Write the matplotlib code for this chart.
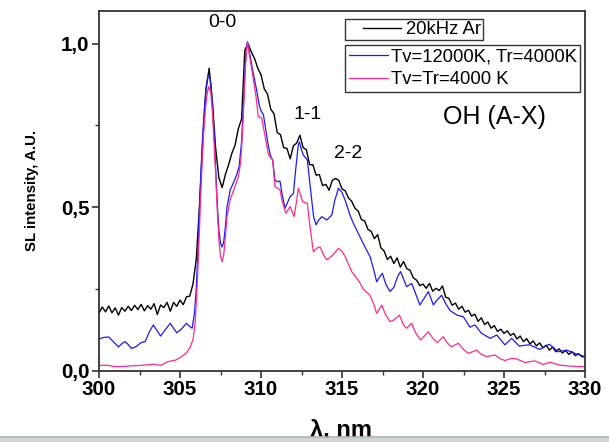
import numpy as np
import matplotlib
matplotlib.use("Agg")
import matplotlib.pyplot as plt
from matplotlib.patches import Rectangle
from matplotlib.lines import Line2D
from matplotlib.legend_handler import HandlerLine2D

plt.rcParams['font.family'] = ['Liberation Sans', 'DejaVu Sans']

# ---- data ----
black_x = np.round(np.arange(300.0, 330.001, 0.2), 1)
black_y = [
    0.176, 0.195, 0.180, 0.198, 0.177, 0.192, 0.170, 0.193, 0.182, 0.197,
    0.184, 0.200, 0.187, 0.203, 0.183, 0.199, 0.188, 0.205, 0.172, 0.201,
    0.193, 0.209, 0.182, 0.209, 0.197, 0.216, 0.202, 0.226, 0.228, 0.265,
    0.34, 0.50, 0.70, 0.86, 0.925, 0.82, 0.68, 0.59, 0.56, 0.60,
    0.63, 0.665, 0.69, 0.74, 0.77, 0.98, 1.00, 0.975, 0.955, 0.925,
    0.905, 0.862, 0.846, 0.800, 0.786, 0.728, 0.722, 0.682, 0.680, 0.648,
    0.688, 0.696, 0.720, 0.682, 0.676, 0.630, 0.630, 0.598, 0.600, 0.566,
    0.570, 0.552, 0.582, 0.588, 0.582, 0.556, 0.550, 0.528, 0.518, 0.497,
    0.488, 0.462, 0.458, 0.432, 0.426, 0.404, 0.416, 0.376, 0.366, 0.340,
    0.350, 0.328, 0.345, 0.317, 0.334, 0.312, 0.307, 0.284, 0.277, 0.260,
    0.265, 0.252, 0.267, 0.243, 0.252, 0.245, 0.259, 0.225, 0.221, 0.200,
    0.207, 0.188, 0.197, 0.179, 0.185, 0.167, 0.173, 0.151, 0.162, 0.141,
    0.149, 0.130, 0.138, 0.120, 0.127, 0.114, 0.122, 0.108, 0.114, 0.097,
    0.106, 0.089, 0.098, 0.082, 0.091, 0.076, 0.085, 0.070, 0.078, 0.063,
    0.072, 0.058, 0.067, 0.054, 0.062, 0.050, 0.058, 0.046, 0.052, 0.043,
    0.042,
]

blue_x = [300.0, 300.3, 300.6, 300.9, 301.2, 301.4, 301.6, 301.8, 302.0, 302.3,
          302.6, 302.85, 303.1, 303.35, 303.55, 303.8, 304.1, 304.4, 304.6, 304.8,
          305.1, 305.4, 305.6, 305.75, 305.9, 306.0, 306.1, 306.2, 306.3, 306.4,
          306.5, 306.6, 306.7, 306.8, 306.9, 307.0, 307.1, 307.2, 307.3, 307.4,
          307.5, 307.6, 307.7, 307.8, 307.9, 308.1, 308.3, 308.5, 308.65, 308.8,
          308.9, 309.0, 309.1, 309.16, 309.3, 309.5, 309.73, 309.9, 310.0, 310.15,
          310.3, 310.46, 310.6, 310.72, 310.86, 311.0, 311.17, 311.3, 311.48, 311.6,
          311.79, 312.0, 312.15, 312.3, 312.37, 312.5, 312.61, 312.86, 313.0, 313.13,
          313.25, 313.4, 313.55, 313.75, 314.06, 314.37, 314.55, 314.78, 315.0, 315.19,
          315.49, 315.7, 316.1, 316.4, 316.73, 316.95, 317.14, 317.3, 317.49, 317.7,
          317.96, 318.2, 318.45, 318.62, 318.8, 318.99, 319.3, 319.55, 319.81, 320.05,
          320.33, 320.64, 320.85, 321.15, 321.4, 321.67, 322.1, 322.49, 322.9, 323.2,
          323.6, 324.14, 324.55, 325.06, 325.47, 325.95, 326.3, 326.6, 327.2, 327.8,
          328.35, 328.87, 329.48, 330.0]
blue_y = [0.097, 0.102, 0.103, 0.088, 0.073, 0.082, 0.089, 0.080, 0.068, 0.074,
          0.086, 0.089, 0.118, 0.140, 0.125, 0.106, 0.126, 0.145, 0.130, 0.116,
          0.128, 0.145, 0.135, 0.130, 0.180, 0.250, 0.360, 0.500, 0.620, 0.720,
          0.800, 0.860, 0.895, 0.904, 0.880, 0.820, 0.730, 0.620, 0.510, 0.430,
          0.390, 0.378, 0.395, 0.440, 0.500, 0.553, 0.575, 0.600, 0.625, 0.700,
          0.800, 0.910, 0.990, 1.006, 0.970, 0.915, 0.858, 0.810, 0.795, 0.782,
          0.735, 0.685, 0.655, 0.644, 0.583, 0.578, 0.580, 0.540, 0.497, 0.510,
          0.532, 0.542, 0.620, 0.690, 0.700, 0.675, 0.660, 0.644, 0.580, 0.522,
          0.470, 0.446, 0.460, 0.471, 0.461, 0.476, 0.520, 0.558, 0.545, 0.522,
          0.476, 0.451, 0.410, 0.380, 0.349, 0.310, 0.272, 0.285, 0.298, 0.265,
          0.242, 0.255, 0.290, 0.303, 0.280, 0.257, 0.267, 0.235, 0.201, 0.220,
          0.242, 0.201, 0.215, 0.231, 0.205, 0.184, 0.170, 0.165, 0.133, 0.140,
          0.115, 0.099, 0.109, 0.079, 0.099, 0.075, 0.078, 0.079, 0.065, 0.081,
          0.058, 0.063, 0.051, 0.043]

pink_x = [300.0, 300.5, 301.0, 301.5, 302.0, 302.5, 303.0, 303.4, 303.8, 304.26,
          304.7, 305.1, 305.4, 305.6, 305.8, 305.93, 306.05, 306.15, 306.25, 306.35,
          306.45, 306.55, 306.65, 306.77, 306.9, 307.0, 307.1, 307.2, 307.3, 307.4,
          307.5, 307.6, 307.7, 307.8, 307.9, 308.09, 308.3, 308.6, 308.75, 308.85,
          308.95, 309.05, 309.16, 309.3, 309.5, 309.7, 309.83, 310.04, 310.2, 310.46,
          310.72, 310.86, 311.17, 311.3, 311.54, 311.79, 312.04, 312.2, 312.3, 312.45,
          312.57, 312.86, 313.0, 313.23, 313.45, 313.64, 313.85, 314.06, 314.4, 314.78,
          315.0, 315.19, 315.6, 316.07, 316.3, 316.73, 316.95, 317.14, 317.45, 317.7,
          317.96, 318.2, 318.54, 318.8, 318.99, 319.3, 319.55, 319.85, 320.33, 320.6,
          320.88, 321.25, 321.5, 321.77, 322.18, 322.5, 322.8, 323.32, 323.6, 323.93,
          324.44, 324.75, 325.06, 325.47, 325.78, 326.3, 326.9, 327.42, 327.84, 328.46,
          329.07, 330.0]
pink_y = [0.016, 0.017, 0.012, 0.013, 0.015, 0.016, 0.018, 0.020, 0.016, 0.028,
          0.032, 0.043, 0.055, 0.069, 0.095, 0.145, 0.250, 0.370, 0.500, 0.620,
          0.720, 0.790, 0.840, 0.869, 0.850, 0.790, 0.700, 0.600, 0.490, 0.400,
          0.350, 0.333, 0.355, 0.410, 0.470, 0.522, 0.550, 0.593, 0.640, 0.720,
          0.830, 0.940, 1.005, 0.960, 0.900, 0.835, 0.777, 0.773, 0.730, 0.660,
          0.644, 0.563, 0.553, 0.520, 0.481, 0.502, 0.471, 0.520, 0.558, 0.535,
          0.517, 0.512, 0.450, 0.364, 0.375, 0.379, 0.355, 0.339, 0.352, 0.374,
          0.365, 0.349, 0.303, 0.272, 0.250, 0.231, 0.205, 0.175, 0.201, 0.170,
          0.150, 0.155, 0.170, 0.140, 0.130, 0.145, 0.115, 0.094, 0.119, 0.100,
          0.086, 0.104, 0.085, 0.073, 0.084, 0.065, 0.053, 0.063, 0.050, 0.043,
          0.048, 0.037, 0.031, 0.038, 0.036, 0.025, 0.030, 0.019, 0.026, 0.017,
          0.014, 0.012]

labels = ["20kHz Ar", "Tv=12000K, Tr=4000K", "Tv=Tr=4000 K"]
colors = ["black", "#1a1aff", "#ff2a8a"]
annotations = [("0-0", 307.6, 1.064), ("1-1", 312.85, 0.782), ("2-2", 315.4, 0.663)]


class RightLine(HandlerLine2D):
    """Legend handle whose line only occupies the right part of the handle box."""
    def __init__(self, frac=0.3, **kw):
        super().__init__(**kw)
        self.frac = frac

    def create_artists(self, legend, orig_handle, xdescent, ydescent, width,
                       height, fontsize, trans):
        arts = super().create_artists(legend, orig_handle, xdescent, ydescent,
                                      width, height, fontsize, trans)
        line = arts[0]
        xd = np.asarray(line.get_xdata(), float)
        yd = np.asarray(line.get_ydata(), float)
        x0, x1 = xd[0], xd[-1]
        line.set_data([x0 + (x1 - x0) * self.frac, x1], [yd[0], yd[-1]])
        return arts


# ---- figure ----
fig = plt.figure(figsize=(6.09, 4.42), dpi=100)
ax = fig.add_axes([0.1626, 0.1613, 0.7980, 0.8138])

l1, = ax.plot(black_x, black_y, color=colors[0], lw=1.0)
l2, = ax.plot(blue_x, blue_y, color=colors[1], lw=0.9)
l3, = ax.plot(pink_x, pink_y, color=colors[2], lw=0.9)

ax.set_xlim(300, 330)
ax.set_ylim(0, 1.1)
ax.set_xticks([300, 305, 310, 315, 320, 325, 330])
ax.set_xticks(np.arange(302.5, 330, 5), minor=True)
ax.set_yticks([0.0, 0.5, 1.0])
ax.set_yticklabels(["0,0", "0,5", "1,0"])
ax.set_yticks([0.25, 0.75], minor=True)
for lab in ax.get_xticklabels() + ax.get_yticklabels():
    lab.set_fontweight('bold')
    lab.set_fontsize(14.8)
ax.tick_params(which='major', direction='out', length=5, width=1.2, color='#333333', pad=2)
ax.tick_params(which='minor', direction='out', length=3, width=1.0, color='#333333')
for s in ax.spines.values():
    s.set_linewidth(1.3)
    s.set_color('#333333')

ax.set_ylabel("SL intensity, A.U.", fontsize=10.8, fontweight='bold', labelpad=16)
fig.text(0.560, 0.028, "λ, nm", fontsize=17, fontweight='bold', ha='center', va='center')

for txt, x, y in annotations:
    ax.text(x, y, txt, fontsize=14, ha='center', va='center')
ax.text(324.4, 0.775, "OH (A-X)", fontsize=18, ha='center', va='center')

leg1 = ax.legend([l1], [labels[0]], loc='upper left', bbox_to_anchor=(0.506, 0.978),
                 fontsize=13.3, frameon=True, fancybox=False, edgecolor='black',
                 borderpad=0.12, handlelength=2.9, handletextpad=0.3, borderaxespad=0,
                 handler_map={l1: RightLine(frac=0.3)})
leg1.get_frame().set_linewidth(1.0)
ax.add_artist(leg1)
leg2 = ax.legend([l2, l3], labels[1:], loc='upper left', bbox_to_anchor=(0.506, 0.906),
                 fontsize=13.3, frameon=True, fancybox=False, edgecolor='black',
                 borderpad=0.2, handlelength=2.15, handletextpad=0.12, labelspacing=0.3,
                 borderaxespad=0)
leg2.get_frame().set_linewidth(1.0)

# grey strip at bottom of the image
fig.patches.append(Rectangle((0, 0), 1, 0.010, transform=fig.transFigure,
                             facecolor='#cfd5d3', edgecolor='none', zorder=10))
fig.lines.append(Line2D([0, 1], [0.011, 0.011], transform=fig.transFigure,
                        color='#a8b0ad', lw=1.2, zorder=11))

fig.savefig("out.png", dpi=100)
